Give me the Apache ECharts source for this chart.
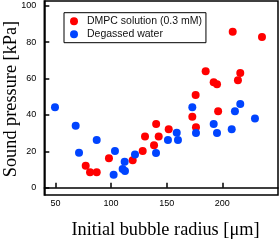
<!DOCTYPE html>
<html>
<head>
<meta charset="utf-8">
<script src="https://cdn.jsdelivr.net/npm/echarts@6/dist/echarts.min.js"></script>
<style>html,body{margin:0;padding:0;background:#fff}#c{width:280px;height:241px}</style>
</head>
<body>
<div id="c"></div>
<script>
var xTicks = [50, 100, 150, 200];
var yTicks = [0, 20, 40, 60, 80, 100];
var dmpcRadius = [77.2, 81.1, 87.1, 98.1, 119.4, 128.4, 130.5, 138.6, 140.5, 142.8, 151.8, 173.0, 176.3, 176.0, 185.0, 192.2, 195.2, 196.2, 209.3, 214.0, 216.1, 235.6];
var dmpcPressure = [12.1, 8.5, 8.5, 16.2, 15.1, 20.2, 28.2, 23.4, 35.0, 28.2, 32.1, 39.0, 33.2, 50.9, 64.0, 57.9, 56.8, 42.0, 85.7, 59.0, 63.0, 82.8];
var waterRadius = [49.6, 68.2, 71.2, 87.1, 102.3, 103.5, 110.4, 112.2, 112.5, 121.5, 140.4, 151.1, 159.0, 160.1, 173.0, 176.3, 192.2, 195.2, 208.4, 211.3, 216.1, 229.3];
var waterPressure = [44.2, 34.1, 19.2, 26.2, 7.1, 20.2, 10.3, 14.3, 9.2, 18.3, 19.1, 26.2, 30.2, 26.2, 44.2, 30.1, 35.0, 30.1, 32.1, 42.0, 46.0, 38.1];
var seriesNames = ['DMPC solution (0.3 mM)', 'Degassed water'];
var xTitle = 'Initial bubble radius [\u03bcm]';
var yTitle = 'Sound pressure [kPa]';

function pairs(xs, ys) { return xs.map(function (x, i) { return [x, ys[i]]; }); }

var chart = echarts.init(document.getElementById('c'), null, {renderer: 'canvas'});
chart.setOption({
  animation: false,
  grid: {left: 44.3, right: 2, top: 1, bottom: 46, show: true, borderColor: '#000', borderWidth: 1.5, containLabel: false},
  xAxis: {
    type: 'value', min: 40, max: 250,
    axisLine: {show: true, lineStyle: {color: '#000', width: 1.5}},
    axisTick: {show: true, inside: true, length: 5, customValues: xTicks, lineStyle: {color: '#000', width: 1.5}},
    axisLabel: {customValues: xTicks, color: '#000', fontFamily: 'Liberation Sans', fontSize: 9, margin: 4.5},
    splitLine: {show: false}
  },
  yAxis: {
    type: 'value', min: -4, max: 102.6,
    axisLine: {show: true, lineStyle: {color: '#000', width: 1.5}},
    axisTick: {show: true, inside: true, length: 5, customValues: yTicks, lineStyle: {color: '#000', width: 1.5}},
    axisLabel: {customValues: yTicks, color: '#000', fontFamily: 'Liberation Sans', fontSize: 9, margin: 8},
    splitLine: {show: false}
  },
  legend: {
    left: 64, top: 12.7, orient: 'vertical',
    borderColor: '#000', borderWidth: 1, padding: [3, 4, 3, 6],
    itemWidth: 16, itemHeight: 8, itemGap: 2, icon: 'circle',
    textStyle: {fontFamily: 'Liberation Sans', fontSize: 10.5, color: '#111'},
    data: seriesNames
  },
  graphic: [
    {type: 'text', x: 165.5, y: 230, style: {text: xTitle, x: 0, y: 0, fontFamily: 'Liberation Serif', fontSize: 18.3, fill: '#000', textAlign: 'center', textVerticalAlign: 'middle'}},
    {type: 'text', x: 11, y: 99, rotation: Math.PI / 2, style: {text: yTitle, x: 0, y: 0, fontFamily: 'Liberation Serif', fontSize: 18.3, fill: '#000', textAlign: 'center', textVerticalAlign: 'middle'}}
  ],
  series: [
    {name: seriesNames[0], type: 'scatter', symbolSize: 8, itemStyle: {color: '#ff0000', opacity: 1}, data: pairs(dmpcRadius, dmpcPressure)},
    {name: seriesNames[1], type: 'scatter', symbolSize: 8, itemStyle: {color: '#0044ff', opacity: 1}, data: pairs(waterRadius, waterPressure)}
  ]
});
</script>
</body>
</html>
